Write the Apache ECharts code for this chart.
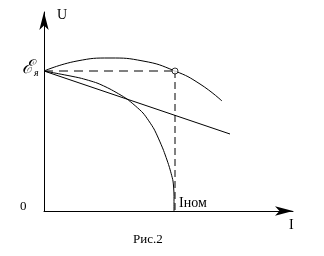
<!DOCTYPE html>
<html><head><meta charset="utf-8">
<script src="https://cdn.jsdelivr.net/npm/echarts@6/dist/echarts.min.js"></script>
<style>html,body{margin:0;padding:0;background:#fff}#c{width:324px;height:256px}</style>
</head><body><div id="c"></div>
<script>
// Data (I, U) in arbitrary units; origin at 0
var emf = 140;          // ℰя
var iNom = 131;         // Iном
var upperArc = [[0,140],[33,150],[66,153],[99,150],[131,140],[156,127],[178,110]];
var straightLine = [[0,140],[186,77]];
var droopCurve = [[0,140],[16,137],[36,133],[53,128],[66,122],[83,112],[99,98],[110,82],[119,62],[125,45],[129,30],[130,16],[130,0]];
var dashH = [[0,emf],[iNom,emf]];
var dashV = [[iNom,emf],[iNom,0]];
var ratedPoint = [[iNom,emf]];
var labels = {u:'U', i:'I', zero:'0', inom:'Iном', caption:'Рис.2'};

var chart = echarts.init(document.getElementById('c'), null, {renderer:'canvas'});
var ln = {color:'#000', width:1};
var font = '"Liberation Serif","Times New Roman",serif';
chart.setOption({
  animation:false,
  backgroundColor:'#fff',
  grid:{left:44, right:31, top:12, bottom:45},
  xAxis:{type:'value', min:0, max:249, splitLine:{show:false}, axisTick:{show:false}, axisLabel:{show:false},
    axisLine:{onZero:false, symbol:['none','arrow'], symbolSize:[7,18], lineStyle:{color:'#000', width:1}}},
  yAxis:{type:'value', min:0, max:199, splitLine:{show:false}, axisTick:{show:false}, axisLabel:{show:false},
    axisLine:{show:true, onZero:false, symbol:['none','arrow'], symbolSize:[7,18], lineStyle:{color:'#000', width:1}}},
  series:[
    {type:'line', data:upperArc, smooth:0.5, showSymbol:false, lineStyle:ln},
    {type:'line', data:straightLine, showSymbol:false, lineStyle:ln},
    {type:'line', data:droopCurve, smooth:0.2, showSymbol:false, lineStyle:ln},
    {type:'line', data:dashH, showSymbol:false, lineStyle:{color:'#000', width:1, type:[9,6]}},
    {type:'line', data:dashV, showSymbol:false, lineStyle:{color:'#000', width:1, type:[7,4]}},
    {type:'scatter', data:ratedPoint, symbol:'circle', symbolSize:6, z:5,
      itemStyle:{color:'#fff', borderColor:'#000', borderWidth:1}}
  ],
  graphic:[
    {type:'text', left:57, top:8, style:{text:labels.u, font:'14px '+font, fill:'#000'}},
    {type:'text', left:22, top:59, style:{text:'{e|ℰ}{s|я}', rich:{e:{font:'italic 19px "DejaVu Serif",serif', fill:'#000'}, s:{font:'italic 10px '+font, fill:'#000', verticalAlign:'bottom', padding:[8,0,0,1]}}}},
    {type:'text', left:20, top:200, style:{text:labels.zero, font:'13px '+font, fill:'#000'}},
    {type:'text', left:179, top:196, style:{text:labels.inom, font:'14px '+font, fill:'#000'}},
    {type:'text', left:289, top:218, style:{text:labels.i, font:'14px '+font, fill:'#000'}},
    {type:'text', left:133, top:233, style:{text:labels.caption, font:'13px '+font, fill:'#000'}}
  ]
});
</script></body></html>
